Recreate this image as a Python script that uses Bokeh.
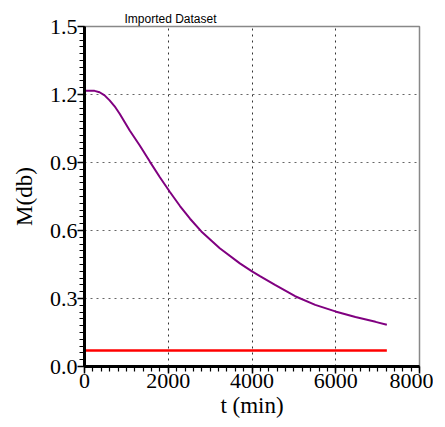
from bokeh.plotting import figure
from bokeh.embed import file_html
from bokeh.resources import INLINE
from bokeh.models import Range1d, FixedTicker, PrintfTickFormatter

t_curve = [0, 240, 360, 480, 600, 720, 840, 1080, 1320, 1560, 1800, 2040,
           2280, 2520, 2790, 3230, 3710, 4000, 4190, 4550, 5030, 5510, 5990,
           6470, 6950, 7220]
m_curve = [1.217, 1.216, 1.21, 1.196, 1.174, 1.148, 1.115, 1.041, 0.975,
           0.904, 0.835, 0.77, 0.708, 0.652, 0.596, 0.522, 0.455, 0.42,
           0.399, 0.36, 0.31, 0.272, 0.243, 0.218, 0.197, 0.184]
t_const = [0, 7220]
m_const = [0.071, 0.071]

x_ticks = [0, 2000, 4000, 6000, 8000]
y_ticks = [0.0, 0.3, 0.6, 0.9, 1.2, 1.5]
x_grid = [2000, 4000, 6000]
y_grid = [0.3, 0.6, 0.9, 1.2]

p = figure(frame_width=335, frame_height=340, output_backend="svg",
           toolbar_location=None, title="Imported Dataset",
           x_range=Range1d(0, 8000), y_range=Range1d(0, 1.5),
           min_border_left=84, min_border_right=14, min_border_top=26,
           min_border_bottom=40)

p.title.text_font = "Liberation Sans"
p.title.text_font_size = "12px"
p.title.text_font_style = "normal"
p.title.text_color = "black"
p.title.align = "left"
p.title.offset = 40
p.title.standoff = 2

p.line(t_curve, m_curve, line_color="#800080", line_width=2)
p.line(t_const, m_const, line_color="#ff0000", line_width=2.5)

p.xaxis.ticker = FixedTicker(ticks=x_ticks,
                             minor_ticks=[i * 200 for i in range(41)])
p.yaxis.ticker = FixedTicker(ticks=y_ticks,
                             minor_ticks=[round(i * 0.03, 2) for i in range(51)])
p.yaxis.formatter = PrintfTickFormatter(format="%.1f")

p.axis.axis_line_width = 3
p.axis.axis_line_color = "black"
p.axis.major_tick_line_color = "black"
p.axis.major_tick_line_width = 1.5
p.axis.minor_tick_line_color = "black"
p.axis.minor_tick_line_width = 1.2
p.axis.major_tick_out = 7
p.axis.major_tick_in = 0
p.axis.minor_tick_out = 5
p.axis.minor_tick_in = 0
p.axis.major_label_text_font = "Times New Roman"
p.axis.major_label_text_font_size = "22px"
p.axis.major_label_text_color = "black"
p.axis.axis_label_text_font = "Times New Roman"
p.axis.axis_label_text_font_size = "23px"
p.axis.axis_label_text_font_style = "normal"
p.axis.axis_label_text_color = "black"

p.xaxis.axis_label = "t (min)"
p.yaxis.axis_label = "M(db)"
p.xaxis.major_label_standoff = 0
p.yaxis.major_label_standoff = 0
p.xaxis.axis_label_standoff = 2
p.yaxis.axis_label_standoff = 10

p.xgrid.ticker = FixedTicker(ticks=x_grid)
p.ygrid.ticker = FixedTicker(ticks=y_grid)
p.xgrid.grid_line_color = "#333333"
p.ygrid.grid_line_color = "#666666"
p.xgrid.grid_line_dash = "2 4"
p.ygrid.grid_line_dash = "2 4"
p.grid.grid_line_width = 1

p.outline_line_color = "#888888"
p.outline_line_width = 1.5
p.background_fill_color = "white"
p.border_fill_color = "white"

open("out.html", "w").write(file_html(p, INLINE))
